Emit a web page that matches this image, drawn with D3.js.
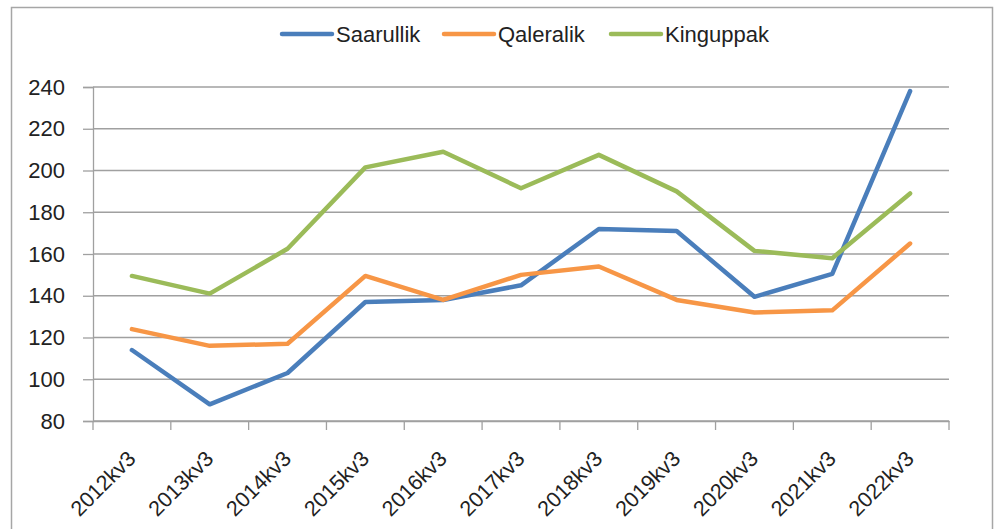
<!DOCTYPE html>
<html><head><meta charset="utf-8">
<script src="https://cdn.jsdelivr.net/npm/d3@7"></script>
<style>body{margin:0;background:#fff}svg{display:block}</style>
</head><body>
<svg id="c" width="998" height="529"></svg>
<script>
const categories = ["2012kv3","2013kv3","2014kv3","2015kv3","2016kv3","2017kv3","2018kv3","2019kv3","2020kv3","2021kv3","2022kv3"];
const seriesNames = ["Saarullik","Qaleralik","Kinguppak"];
const saarullik = [114, 88, 103, 137, 138, 145, 172, 171, 139.5, 150.5, 238];
const qaleralik = [124, 116, 117, 149.5, 138, 150, 154, 138, 132, 133, 165];
const kinguppak = [149.5, 141, 162.5, 201.5, 209, 191.5, 207.5, 190, 161.5, 158, 189];
const yTicks = [80,100,120,140,160,180,200,220,240];
const colors = ["#4a7ebb","#f79646","#9bbb59"];
const seriesData = [saarullik, qaleralik, kinguppak];

const svg = d3.select("#c");
const font = "'Liberation Sans', Arial, sans-serif";
svg.append("rect").attr("x",11.5).attr("y",7.5).attr("width",981).attr("height",540)
  .attr("fill","#fff").attr("stroke","#a6a6a6").attr("stroke-width",1.5);

const L=93, R=949, T=87, B=421;
const x = d3.scaleBand().domain(categories).range([L,R]).padding(0);
const y = d3.scaleLinear().domain([80,240]).range([B,T]);

// gridlines
svg.append("g").selectAll("line").data(yTicks).join("line")
  .attr("x1",L).attr("x2",R).attr("y1",d=>y(d)).attr("y2",d=>y(d))
  .attr("stroke","#a0a0a0").attr("stroke-width",1.3);

// y axis
const ya = svg.append("g").attr("transform",`translate(${L},0)`)
  .call(d3.axisLeft(y).tickValues(yTicks).tickSize(10).tickPadding(18));
ya.select(".domain").attr("stroke","#a0a0a0").attr("stroke-width",1.3);
ya.selectAll(".tick line").attr("stroke","#a0a0a0").attr("stroke-width",1.3);
ya.selectAll("text").attr("font-family",font).attr("font-size",22).attr("fill","#222");

// x axis
const xa = svg.append("g").attr("transform",`translate(0,${B})`)
  .call(d3.axisBottom(x).tickSize(0).tickFormat(""));
xa.select(".domain").attr("stroke","#a0a0a0").attr("stroke-width",1.3);
const edges = categories.map(c=>x(c)).concat([R]);
svg.append("g").selectAll("line").data(edges).join("line")
  .attr("x1",d=>d).attr("x2",d=>d).attr("y1",B).attr("y2",B+9)
  .attr("stroke","#a0a0a0").attr("stroke-width",1.3);
svg.append("g").selectAll("text").data(categories).join("text")
  .attr("transform",d=>`translate(${x(d)+x.bandwidth()/2+5},${B+39}) rotate(-45)`)
  .attr("text-anchor","end")
  .attr("font-family",font).attr("font-size",21.5).attr("fill","#222")
  .text(d=>d);

// lines
const line = d3.line().x((d,i)=>x(categories[i])+x.bandwidth()/2).y(d=>y(d));
seriesData.forEach((s,k)=>{
  svg.append("path").datum(s).attr("d",line).attr("fill","none")
    .attr("stroke",colors[k]).attr("stroke-width",4.5)
    .attr("stroke-linejoin","round").attr("stroke-linecap","round");
});

// legend
const legX = [282, 444, 611];
seriesNames.forEach((n,k)=>{
  const g = svg.append("g").attr("transform",`translate(${legX[k]},34)`);
  g.append("line").attr("x1",0).attr("x2",50).attr("y1",0).attr("y2",0)
    .attr("stroke",colors[k]).attr("stroke-width",4.5).attr("stroke-linecap","round");
  g.append("text").attr("x",54).attr("y",0).attr("dy","0.35em")
    .attr("font-family",font).attr("font-size",22).attr("fill","#222").text(n);
});
</script>
</body></html>
